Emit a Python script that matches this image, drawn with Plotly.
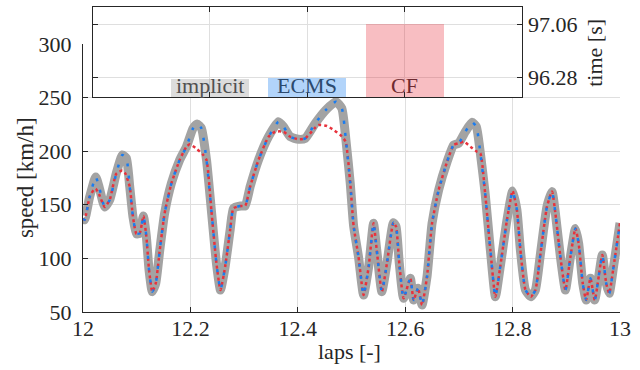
import plotly.graph_objects as go

# ---------------- data ----------------
laps = [12.000, 12.003, 12.0125, 12.0237, 12.0298, 12.0404, 12.0497, 12.062, 12.0733, 12.0808,
        12.087, 12.093, 12.0994, 12.1056, 12.1125, 12.118, 12.123, 12.129, 12.1355, 12.143,
        12.152, 12.1646, 12.18, 12.1926, 12.205, 12.2125, 12.2205, 12.23, 12.239, 12.2485,
        12.256, 12.2647, 12.274, 12.2802, 12.2936, 12.302, 12.3113, 12.3268, 12.3455, 12.364,
        12.3734, 12.3858, 12.4013, 12.4138, 12.4324, 12.452, 12.471, 12.482, 12.4897, 12.4977,
        12.504, 12.513, 12.5225, 12.532, 12.541, 12.547, 12.5565, 12.566, 12.578, 12.583,
        12.589, 12.597, 12.6095, 12.6157, 12.624, 12.6313, 12.6406, 12.65, 12.6623, 12.678,
        12.6902, 12.6995, 12.712, 12.7245, 12.7325, 12.74, 12.749, 12.7586, 12.768, 12.777,
        12.7895, 12.8, 12.808, 12.8145, 12.824, 12.834, 12.8425, 12.852, 12.864, 12.8735,
        12.8797, 12.889, 12.8984, 12.9077, 12.917, 12.923, 12.9306, 12.937, 12.945, 12.953,
        12.967, 12.9743, 12.98, 12.988, 13.0]

speed_implicit = [137, 136, 157.6, 176, 167, 148, 154.5, 179.4, 196.5, 193.4,
                  167, 139, 123, 123.4, 139.6, 120.3, 89.2, 69, 76.8, 107.8,
                  142, 170, 191.8, 204.2, 221.4, 225.4, 221.4, 191.8, 145.1, 95.4,
                  70.5, 92.3, 126.5, 146.7, 148.9, 149, 167, 191.8, 213.5, 227.5,
                  222.9, 213.5, 211.1, 212, 226, 238.4, 246.2, 240, 210, 170,
                  130, 101.6, 65.9, 92.3, 132.7, 107.8, 68.9, 95.4, 133.3, 129.6,
                  95.4, 62.8, 81.4, 61.2, 72.1, 56.5, 82.9, 132.7, 163.8, 190.2,
                  205.8, 207.4, 218.2, 227, 222.9, 198, 160, 107.8, 64.3, 92.3,
                  135.8, 162.9, 145.1, 107.8, 70.5, 64.3, 70.5, 104.7, 148.3, 162.3,
                  142, 101.6, 70.5, 101.6, 128, 114, 76.8, 61.2, 81.4, 61.2,
                  103.2, 76.8, 67.4, 92.3, 133]

speed_ecms = [137, 136, 157.6, 176, 167, 148, 154.5, 179.4, 196.5, 193.4,
              167, 139, 123, 123.4, 139.6, 120.3, 89.2, 69, 76.8, 107.8,
              142, 170, 191.8, 204.2, 221.4, 225.4, 221.4, 191.8, 145.1, 95.4,
              70.5, 92.3, 126.5, 146.7, 148.9, 149, 167, 191.8, 213.5, 227.5,
              222.9, 213.5, 211.1, 212, 226, 238.4, 246.2, 240, 210, 170,
              130, 101.6, 65.9, 92.3, 132.7, 107.8, 68.9, 95.4, 133.3, 129.6,
              95.4, 62.8, 81.4, 61.2, 72.1, 56.5, 82.9, 132.7, 163.8, 190.2,
              205.8, 207.4, 218.2, 227, 222.9, 198, 160, 107.8, 64.3, 92.3,
              135.8, 162.9, 145.1, 107.8, 70.5, 64.3, 70.5, 104.7, 148.3, 162.3,
              142, 101.6, 70.5, 101.6, 128, 114, 76.8, 61.2, 81.4, 61.2,
              103.2, 76.8, 67.4, 92.3, 133]

laps_cf = [12.000, 12.003, 12.0125, 12.020, 12.0237, 12.0298, 12.0404, 12.0497, 12.062, 12.0733,
           12.079, 12.087, 12.093, 12.0994, 12.1056, 12.1125, 12.118, 12.123, 12.129, 12.1355,
           12.143, 12.152, 12.1646, 12.18, 12.1926, 12.1988, 12.2125, 12.2223, 12.23, 12.239,
           12.2485, 12.256, 12.2647, 12.274, 12.2802, 12.2936, 12.302, 12.3113, 12.3268, 12.3455,
           12.358, 12.3734, 12.3858, 12.4013, 12.4138, 12.4324, 12.4386, 12.454, 12.4668, 12.4795,
           12.489, 12.4977, 12.504, 12.513, 12.5225, 12.532, 12.541, 12.547, 12.5565, 12.566,
           12.578, 12.583, 12.589, 12.597, 12.6095, 12.6157, 12.624, 12.6313, 12.6406, 12.65,
           12.6623, 12.678, 12.6902, 12.6995, 12.709, 12.7214, 12.7338, 12.74, 12.749, 12.7586,
           12.768, 12.777, 12.7895, 12.8, 12.808, 12.8145, 12.824, 12.834, 12.8425, 12.852,
           12.864, 12.8735, 12.8797, 12.889, 12.8984, 12.9077, 12.917, 12.923, 12.9306, 12.937,
           12.945, 12.953, 12.967, 12.9743, 12.98, 12.988, 13.0]

speed_cf = [137, 136, 157.6, 164, 165, 160, 148, 154.5, 179, 182,
            179, 167, 139, 123, 123.4, 139.6, 120.3, 89.2, 69, 76.8,
            107.8, 142, 170, 191.8, 204.2, 206.4, 201.8, 197.4, 191.8, 145.1,
            95.4, 70.5, 92.3, 126.5, 146.7, 148.9, 149, 167, 191.8, 213.5,
            218.2, 218.2, 213.5, 211.1, 212, 222, 224.4, 223.5, 219.8, 215,
            208.9, 170, 130, 101.6, 65.9, 92.3, 132.7, 107.8, 68.9, 95.4,
            133.3, 129.6, 95.4, 62.8, 81.4, 61.2, 72.1, 56.5, 82.9, 132.7,
            163.8, 190.2, 205.8, 207.4, 208.9, 204.2, 199.5, 198, 160, 107.8,
            64.3, 92.3, 135.8, 162.9, 145.1, 107.8, 70.5, 64.3, 70.5, 104.7,
            148.3, 162.3, 142, 101.6, 70.5, 101.6, 128, 114, 76.8, 61.2,
            81.4, 61.2, 103.2, 76.8, 67.4, 92.3, 133]

methods = ["implicit", "ECMS", "CF"]
lap_time = [96.265, 96.28, 97.06]
time_ticks = [96.28, 97.06]
x_ticks = [12, 12.2, 12.4, 12.6, 12.8, 13]
x_ticklabels = ["12", "12.2", "12.4", "12.6", "12.8", "13"]
y_ticks = [50, 100, 150, 200, 250, 300]

# ---------------- styling ----------------
FONT = "Liberation Serif"
FS = 22
AX = "#262626"
GRID = "#dfdfdf"
bar_colors = ["rgba(140,140,140,0.30)", "rgba(0,114,240,0.30)", "rgba(232,40,52,0.30)"]
text_colors = ["#505050", "#2c4a6e", "#6e2a30"]
SM = 0.5

fig = go.Figure()

fig.add_trace(go.Scatter(x=laps, y=speed_implicit, mode="lines",
                         line=dict(color="#a3a3a3", width=9, shape="spline", smoothing=SM),
                         showlegend=False))
fig.add_trace(go.Scatter(x=laps_cf, y=speed_cf, mode="lines",
                         line=dict(color="#e8323c", width=2.5, dash="3px,3px", shape="spline", smoothing=SM),
                         showlegend=False))
fig.add_trace(go.Scatter(x=laps, y=speed_ecms, mode="lines",
                         line=dict(color="#1a7cf0", width=2.5, dash="3px,9px", shape="spline", smoothing=SM),
                         showlegend=False))

# inset bars
fig.add_trace(go.Bar(x=[1, 2, 3], y=lap_time, width=0.8, base=0,
                     marker=dict(color=bar_colors, line=dict(width=0)),
                     xaxis="x2", yaxis="y2", showlegend=False))

for i, (m, c) in enumerate(zip(methods, text_colors)):
    fig.add_annotation(x=i + 1, y=96.0, xref="x2", yref="y2", text=m, showarrow=False,
                       yanchor="bottom", yshift=-3, font=dict(family=FONT, size=FS, color=c))

# axis titles as annotations (precise placement)
fig.add_annotation(x=-0.108, y=0.439, xref="paper", yref="paper", text="speed [km/h]",
                   textangle=-90, showarrow=False, xanchor="center", yanchor="middle",
                   font=dict(family=FONT, size=23, color=AX))
fig.add_annotation(x=0.497, y=-0.128, xref="paper", yref="paper", text="laps [-]",
                   showarrow=False, xanchor="center", yanchor="middle",
                   font=dict(family=FONT, size=FS, color=AX))
fig.add_annotation(x=0.951, y=0.849, xref="paper", yref="paper", text="time [s]",
                   textangle=-90, showarrow=False, xanchor="center", yanchor="middle",
                   font=dict(family=FONT, size=22, color=AX))

# white background for inset
fig.add_shape(type="rect", xref="x2 domain", yref="y2 domain", x0=0, x1=1, y0=0, y1=1,
              fillcolor="white", line=dict(width=0), layer="below")

axis_common = dict(showline=True, linecolor=AX, linewidth=1, ticks="inside", ticklen=5,
                   tickcolor=AX, showgrid=True, gridcolor=GRID, gridwidth=1, zeroline=False,
                   automargin=False,
                   tickfont=dict(family=FONT, size=FS, color=AX))

fig.update_layout(
    width=640, height=370,
    margin=dict(l=83, r=20, t=7, b=58, autoexpand=False),
    paper_bgcolor="white", plot_bgcolor="white",
    font=dict(family=FONT, size=FS, color=AX),
    xaxis=dict(domain=[0, 1], range=[12, 13], tickvals=x_ticks, ticktext=x_ticklabels,
               ticklabelstandoff=-3, **axis_common),
    yaxis=dict(domain=[0, 0.8787], range=[50, 300], tickvals=y_ticks,
               ticklabelstandoff=6, **axis_common),
    xaxis2=dict(domain=[0.0186, 0.8166], range=[-0.2, 4.2], tickvals=[1, 2, 3],
                showticklabels=False, anchor="y2", mirror="allticks", **axis_common),
    yaxis2=dict(domain=[0.7049, 1], range=[96.0, 97.31], tickvals=time_ticks,
                ticktext=["96.28", "97.06"], side="right", anchor="x2", mirror="allticks",
                ticklabelstandoff=1, **axis_common),
    bargap=0,
)

fig.write_html("out.html", config={"displayModeBar": False},
               post_script="document.body.style.margin='0px';")
